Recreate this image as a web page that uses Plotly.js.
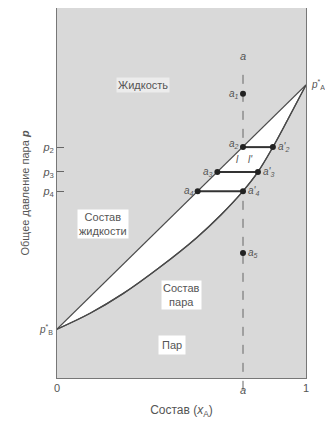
<!DOCTYPE html>
<html><head><meta charset="utf-8">
<script src="https://cdn.plot.ly/plotly-3.0.1.min.js"></script>
<style>body{margin:0;background:#fff}#c{width:325px;height:428px}</style>
</head><body><div id="c"></div>
<script>
// composition of the system point
const aComp = 0.747;
// pure-component vapour pressures (relative units)
const pB = 0.132, pA = 0.792;
// liquid (bubble) line
const liquidX = [0, 1];
const liquidP = [pB, pA];
// vapour (dew) curve
const vaporX = [0, 0.133, 0.265, 0.414, 0.562, 0.66, 0.747, 0.807, 0.867, 0.928, 1];
const vaporP = [0.132, 0.175, 0.228, 0.300, 0.380, 0.442, 0.505, 0.557, 0.624, 0.700, 0.792];
// labelled pressures
const pLevels = [0.624, 0.557, 0.505];
const pLabels = ['<i>p</i><sub>2</sub>', '<i>p</i><sub>3</sub>', '<i>p</i><sub>4</sub>'];
// tie lines: liquid end and vapour end
const tieLiqX = [0.747, 0.644, 0.565];
const tieVapX = [0.867, 0.807, 0.747];
// points
const pointNames = ['a<sub>1</sub>', 'a<sub>2</sub>', "a'<sub>2</sub>", 'a<sub>3</sub>', "a'<sub>3</sub>", 'a<sub>4</sub>', "a'<sub>4</sub>", 'a<sub>5</sub>'];
const pointX = [0.747, 0.747, 0.867, 0.644, 0.807, 0.565, 0.747, 0.747];
const pointP = [0.768, 0.624, 0.624, 0.557, 0.557, 0.505, 0.505, 0.338];
const pointSide = ['left', 'left', 'right', 'left', 'right', 'left', 'right', 'right'];
// x tick labels
const xTickVals = [0, 1];
const xTickText = ['0', '1'];

const lineCol = '#4a4a4a', textCol = '#555';
const traces = [];
traces.push({x: vaporX, y: vaporP, mode: 'lines', line: {color: lineCol, width: 1.3, shape: 'spline', smoothing: 1}});
traces.push({x: liquidX, y: liquidP, mode: 'lines', fill: 'tonexty', fillcolor: '#ffffff', line: {color: lineCol, width: 1.3}});
traces.push({x: vaporX, y: vaporP, mode: 'lines', line: {color: lineCol, width: 1.3, shape: 'spline', smoothing: 1}});
for (let i = 0; i < tieLiqX.length; i++) {
  traces.push({x: [tieLiqX[i], tieVapX[i]], y: [pLevels[i], pLevels[i]], mode: 'lines', line: {color: '#333', width: 2}});
}
traces.push({x: pointX, y: pointP, mode: 'markers', marker: {color: '#222', size: 6}, cliponaxis: false});

const ann = [];
const font = {family: 'Liberation Sans, Arial, sans-serif', size: 10, color: textCol};
const font11 = {family: font.family, size: 11, color: textCol};
for (let i = 0; i < pointX.length; i++) {
  const left = pointSide[i] === 'left';
  ann.push({x: pointX[i], y: pointP[i], xref: 'x', yref: 'y', text: '<i>' + pointNames[i] + '</i>', showarrow: false,
    xanchor: left ? 'right' : 'left', xshift: left ? -2 : 3, yshift: (i === 1) ? 3 : 0, font: font});
}
ann.push({x: 1, y: pA, text: '<i>p</i><sup>*</sup><sub>A</sub>', showarrow: false, xanchor: 'left', xshift: 3, font: font});
ann.push({x: 0, y: pB, text: '<i>p</i><sup>*</sup><sub>B</sub>', showarrow: false, xanchor: 'right', xshift: -2, font: font});
ann.push({x: aComp, y: 0.87, text: '<i>a</i>', showarrow: false, font: font11});
ann.push({x: aComp, xref: 'x', yref: 'paper', y: -0.055, text: '<i>a</i>', showarrow: false, font: font11});
ann.push({x: 0.345, y: 0.792, text: 'Жидкость', showarrow: false, font: font11, bgcolor: 'rgba(255,255,255,0.5)'});
ann.push({x: 0.185, y: 0.416, text: 'Состав<br>жидкости', showarrow: false, font: font11, bgcolor: '#fff'});
ann.push({x: 0.50, y: 0.224, text: 'Состав<br>пара', showarrow: false, font: font11, bgcolor: '#fff'});
ann.push({x: 0.46, y: 0.089, text: 'Пар', showarrow: false, font: font11, bgcolor: '#fff', borderpad: 3});
ann.push({x: aComp, y: (pLevels[0] + pLevels[1]) / 2, text: '<i>l</i>', showarrow: false, xanchor: 'right', xshift: -2, font: font});
ann.push({x: aComp, y: (pLevels[0] + pLevels[1]) / 2, text: "<i>l'</i>", showarrow: false, xanchor: 'left', xshift: 3, font: font});

const layout = {
  width: 325, height: 428,
  margin: {l: 57, r: 19, t: 8, b: 50},
  paper_bgcolor: '#fff', plot_bgcolor: '#d9d9d9',
  showlegend: false,
  font: font,
  xaxis: {range: [0, 1], tickvals: xTickVals, ticktext: xTickText, showgrid: false, zeroline: false,
    showline: true, linecolor: '#777', linewidth: 1, ticks: '', tickfont: {size: 11, color: textCol},
    title: {text: 'Состав (<i>x</i><sub>A</sub>)', font: {size: 12, color: textCol}, standoff: 12}},
  yaxis: {range: [0, 1], tickvals: pLevels, ticktext: pLabels, showgrid: false, zeroline: false,
    showline: true, mirror: true, linecolor: '#777', linewidth: 1, ticks: 'inside', ticklen: 7, tickcolor: '#666',
    tickfont: {size: 11, color: textCol},
    title: {text: 'Общее давление пара <b><i>p</i></b>', font: {size: 11, color: textCol}, standoff: 10}},
  shapes: [{type: 'line', xref: 'x', yref: 'paper', x0: aComp, x1: aComp, y0: -0.032, y1: 0.84,
    line: {color: '#666', width: 1, dash: 'dash'}, layer: 'below'}],
  annotations: ann
};
Plotly.newPlot('c', traces, layout, {displayModeBar: false, staticPlot: true});
</script></body></html>
